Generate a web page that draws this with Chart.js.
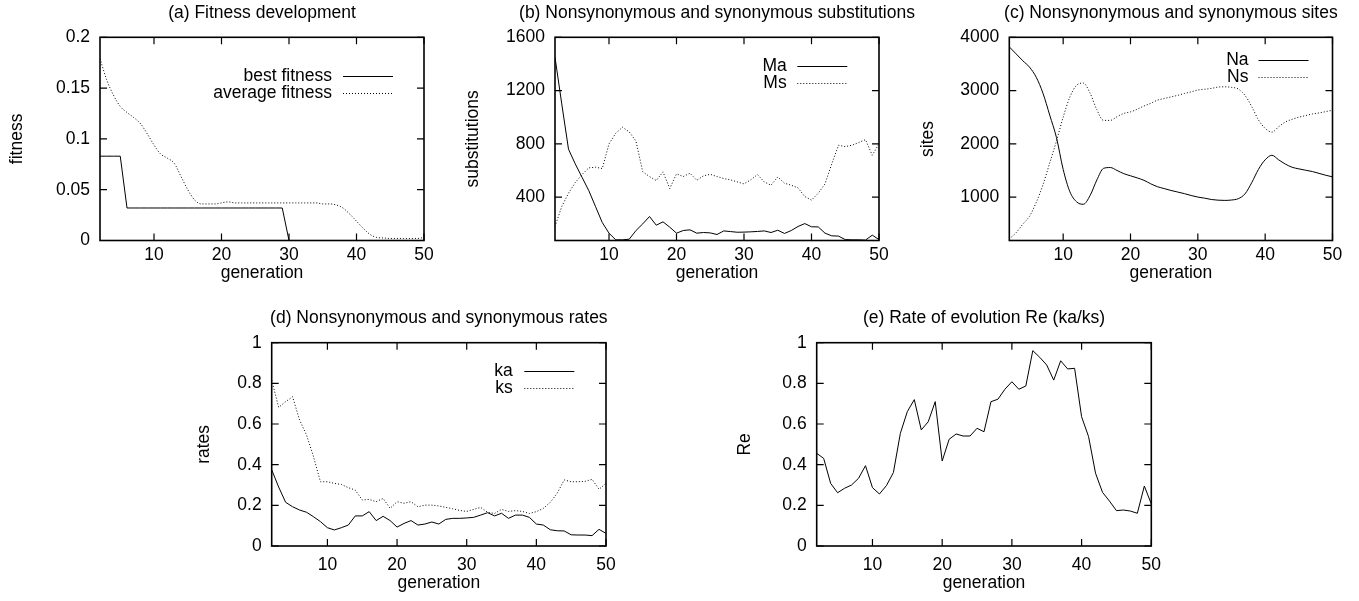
<!DOCTYPE html>
<html>
<head>
<meta charset="utf-8">
<title>Evolution runs</title>
<script src="https://cdn.jsdelivr.net/npm/chart.js@4.4.1/dist/chart.umd.min.js"></script>
<style>
  body { margin: 0; background: #fff; }
  #page { position: relative; width: 1359px; height: 601px; overflow: hidden; background: #fff; }
  #page canvas { position: absolute; }
</style>
</head>
<body>
<div id="page"></div>
<script>
// generations on the x axis
const generations = [2, 3, 4, 5, 6, 7, 8, 9, 10, 11, 12, 13, 14, 15, 16, 17, 18, 19, 20, 21,
  22, 23, 24, 25, 26, 27, 28, 29, 30, 31, 32, 33, 34, 35, 36, 37, 38, 39, 40, 41,
  42, 43, 44, 45, 46, 47, 48, 49, 50];
const generationTicks = [10, 20, 30, 40, 50];

// (a) fitness
const bestFitness = [0.083, 0.083, 0.083, 0.083, 0.032, 0.032, 0.032, 0.032, 0.032, 0.032,
  0.032, 0.032, 0.032, 0.032, 0.032, 0.032, 0.032, 0.032, 0.032, 0.032,
  0.032, 0.032, 0.032, 0.032, 0.032, 0.032, 0.032, 0.032, 0, 0,
  0, 0, 0, 0, 0, 0, 0, 0, 0, 0,
  0, 0, 0, 0, 0, 0, 0, 0, 0];
const averageFitness = [0.179, 0.158, 0.143, 0.132, 0.126, 0.121, 0.115, 0.105, 0.094, 0.085,
  0.081, 0.076, 0.063, 0.050, 0.040, 0.036, 0.036, 0.036, 0.037, 0.038,
  0.037, 0.037, 0.037, 0.037, 0.037, 0.037, 0.037, 0.037, 0.037, 0.037,
  0.037, 0.037, 0.037, 0.036, 0.036, 0.035, 0.032, 0.026, 0.019, 0.012,
  0.006, 0.003, 0.0025, 0.002, 0.002, 0.002, 0.002, 0.002, 0.003];
const fitnessTicks = [0, 0.05, 0.1, 0.15, 0.2];

// (b) substitutions
const Ma = [1450, 1100, 760, 650, 550, 450, 330, 210, 130, 80,
  80, 85, 150, 200, 255, 190, 215, 175, 130, 150,
  155, 130, 135, 132, 120, 147, 142, 137, 138, 140,
  143, 147, 135, 152, 128, 150, 180, 202, 178, 177,
  130, 110, 108, 82, 80, 80, 78, 115, 82];
const Ms = [180, 330, 430, 510, 570, 620, 625, 615, 800, 880,
  925, 890, 820, 590, 555, 525, 590, 465, 575, 555,
  580, 527, 560, 572, 555, 540, 530, 515, 500, 530,
  570, 515, 490, 552, 505, 490, 470, 405, 378, 430,
  500, 650, 790, 780, 790, 810, 832, 715, 800];
const substitutionTicks = [400, 800, 1200, 1600];

// (c) sites
const Na = [3820, 3690, 3560, 3440, 3250, 2950, 2540, 2120, 1520, 1100,
  910, 865, 1030, 1320, 1540, 1555, 1500, 1440, 1400, 1360,
  1315, 1250, 1195, 1160, 1125, 1095, 1065, 1030, 1000, 980,
  955, 942, 938, 945, 970, 1060, 1270, 1520, 1700, 1785,
  1700, 1620, 1560, 1530, 1505, 1480, 1445, 1410, 1380];
const Ns = [215, 330, 490, 640, 900, 1230, 1640, 2050, 2500, 2880,
  3100, 3140, 2950, 2640, 2440, 2440, 2510, 2570, 2600, 2650,
  2710, 2760, 2820, 2850, 2880, 2910, 2945, 2975, 3010, 3025,
  3040, 3065, 3070, 3060, 3030, 2910, 2700, 2450, 2290, 2220,
  2320, 2410, 2460, 2500, 2530, 2560, 2580, 2605, 2630];
const siteTicks = [1000, 2000, 3000, 4000];

// (d) rates
const ka = [0.375, 0.29, 0.215, 0.193, 0.177, 0.166, 0.144, 0.12, 0.09, 0.079,
  0.09, 0.103, 0.148, 0.148, 0.169, 0.125, 0.146, 0.125, 0.093, 0.111,
  0.125, 0.103, 0.108, 0.118, 0.108, 0.131, 0.136, 0.136, 0.138, 0.141,
  0.152, 0.164, 0.148, 0.161, 0.136, 0.152, 0.152, 0.141, 0.108, 0.103,
  0.08, 0.075, 0.074, 0.055, 0.054, 0.054, 0.051, 0.082, 0.062];
const ks = [0.816, 0.682, 0.71, 0.734, 0.62, 0.546, 0.44, 0.316, 0.316, 0.308,
  0.303, 0.287, 0.275, 0.226, 0.229, 0.218, 0.234, 0.185, 0.218, 0.21,
  0.218, 0.193, 0.201, 0.201, 0.197, 0.19, 0.183, 0.175, 0.17, 0.18,
  0.19, 0.166, 0.16, 0.18, 0.17, 0.174, 0.17, 0.16, 0.169, 0.185,
  0.215, 0.26, 0.325, 0.316, 0.316, 0.318, 0.328, 0.279, 0.308];

// (e) Re = ka/ks
const Re = [0.456, 0.431, 0.308, 0.262, 0.284, 0.3, 0.333, 0.395, 0.287, 0.256,
  0.297, 0.361, 0.554, 0.661, 0.72, 0.571, 0.611, 0.71, 0.418, 0.525,
  0.551, 0.541, 0.541, 0.579, 0.562, 0.71, 0.722, 0.771, 0.808, 0.771,
  0.787, 0.961, 0.928, 0.89, 0.816, 0.911, 0.871, 0.874, 0.636, 0.538,
  0.358, 0.264, 0.221, 0.174, 0.177, 0.172, 0.161, 0.295, 0.207];
const rateTicks = [0, 0.2, 0.4, 0.6, 0.8, 1];

const FONT = { family: "'Liberation Sans', Arial, Helvetica, sans-serif", size: 17.5, lineHeight: 1.2 };
const DOTTED = [1, 2];

function points(ys) {
  return generations.map((g, i) => ({ x: g, y: ys[i] }));
}

// gnuplot look: title over the box, box border, inward ticks on all sides, key inside the box
const gnuplotFrame = {
  id: 'gnuplotFrame',
  afterDatasetsDraw(chart, args, opts) {
    const { ctx, chartArea: a, scales } = chart;
    const t = 7;
    ctx.save();
    ctx.strokeStyle = '#000';
    ctx.lineWidth = 1.2;
    ctx.beginPath();
    scales.x.ticks.forEach(tk => {
      const px = scales.x.getPixelForValue(tk.value);
      ctx.moveTo(px, a.bottom); ctx.lineTo(px, a.bottom - t);
      ctx.moveTo(px, a.top); ctx.lineTo(px, a.top + t);
    });
    scales.y.ticks.forEach(tk => {
      const py = scales.y.getPixelForValue(tk.value);
      ctx.moveTo(a.left, py); ctx.lineTo(a.left + t, py);
      ctx.moveTo(a.right, py); ctx.lineTo(a.right - t, py);
    });
    ctx.stroke();
    ctx.lineWidth = 1.6;
    ctx.strokeRect(a.left, a.top, a.right - a.left, a.bottom - a.top);

    ctx.font = FONT.size + 'px ' + FONT.family;
    ctx.fillStyle = '#000';
    ctx.textBaseline = 'middle';
    ctx.textAlign = 'center';
    ctx.fillText(opts.title, (a.left + a.right) / 2, opts.titleY);

    if (opts.key) {
      const k = opts.key;
      ctx.textAlign = 'right';
      chart.data.datasets.forEach((ds, i) => {
        const y = a.top + k.firstRow + i * k.rowGap;
        ctx.fillText(ds.label, a.right - k.textRight, y);
        ctx.beginPath();
        ctx.lineWidth = 1;
        ctx.setLineDash(ds.borderDash || []);
        ctx.moveTo(a.right - k.sampleFrom, Math.round(y) + 0.5);
        ctx.lineTo(a.right - k.sampleTo, Math.round(y) + 0.5);
        ctx.stroke();
        ctx.setLineDash([]);
      });
    }
    ctx.restore();
  }
};

function makePanel(p) {
  const canvas = document.createElement('canvas');
  canvas.width = p.box[2];
  canvas.height = p.box[3];
  canvas.style.left = p.box[0] + 'px';
  canvas.style.top = p.box[1] + 'px';
  document.getElementById('page').appendChild(canvas);

  const [cx, cy, cw, ch] = p.box;
  const [l, t, r, b] = p.area;
  const yWidth = l - cx;
  const xHeight = cy + ch - b;
  const half = FONT.size * FONT.lineHeight / 2;

  return new Chart(canvas, {
    type: 'line',
    data: {
      datasets: p.series.map(s => ({
        label: s.label,
        data: points(s.values),
        borderColor: '#000',
        borderWidth: 1,
        borderDash: s.dotted ? DOTTED : [],
        pointRadius: 0,
        fill: false,
        tension: 0,
        cubicInterpolationMode: s.smooth ? 'monotone' : 'default'
      }))
    },
    options: {
      responsive: false,
      animation: false,
      events: [],
      layout: { padding: { left: 0, top: t - cy, right: cx + cw - r, bottom: 0 } },
      plugins: {
        legend: { display: false },
        tooltip: { enabled: false },
        title: { display: false },
        gnuplotFrame: { key: p.key, title: p.title, titleY: p.titleY - cy }
      },
      scales: {
        x: {
          type: 'linear',
          min: 2,
          max: 50,
          afterBuildTicks: s => { s.ticks = generationTicks.map(v => ({ value: v })); },
          afterFit: s => { s.height = xHeight; },
          grid: { display: false, drawTicks: false },
          border: { display: false },
          ticks: { color: '#000', font: FONT, padding: p.xTickY - b - half, maxRotation: 0, autoSkip: false,
                   callback: v => String(v) },
          title: { display: true, text: 'generation', color: '#000', font: FONT,
                   padding: { top: 0, bottom: cy + ch - p.xTitleY - half } }
        },
        y: {
          type: 'linear',
          min: p.yMin,
          max: p.yMax,
          afterBuildTicks: s => { s.ticks = p.yTicks.map(v => ({ value: v })); },
          afterFit: s => { s.width = yWidth; },
          grid: { display: false, drawTicks: false },
          border: { display: false },
          ticks: { color: '#000', font: FONT, padding: 10, autoSkip: false,
                   callback: v => String(v) },
          title: { display: true, text: p.yTitle, color: '#000', font: FONT,
                   padding: { top: p.yTitleX - cx - half, bottom: 0 } }
        }
      }
    },
    plugins: [gnuplotFrame]
  });
}

makePanel({
  box: [0, 0, 450, 300], area: [100, 37.3, 424, 240.5],
  title: '(a) Fitness development', titleY: 13.3,
  yTitle: 'fitness', yTitleX: 17.3, yMin: 0, yMax: 0.2, yTicks: fitnessTicks,
  xTickY: 255, xTitleY: 273,
  key: { textRight: 92, sampleFrom: 81, sampleTo: 31, firstRow: 38.7, rowGap: 17.3 },
  series: [
    { label: 'best fitness', values: bestFitness },
    { label: 'average fitness', values: averageFitness, dotted: true, smooth: true }
  ]
});

makePanel({
  box: [450, 0, 475, 300], area: [555, 37.3, 879, 240.5],
  title: '(b) Nonsynonymous and synonymous substitutions', titleY: 13.3,
  yTitle: 'substitutions', yTitleX: 473.3, yMin: 75, yMax: 1600, yTicks: substitutionTicks,
  xTickY: 255, xTitleY: 273,
  key: { textRight: 92.3, sampleFrom: 81.7, sampleTo: 31.7, firstRow: 28.7, rowGap: 16.8 },
  series: [
    { label: 'Ma', values: Ma },
    { label: 'Ms', values: Ms, dotted: true }
  ]
});

makePanel({
  box: [905, 0, 454, 300], area: [1009.3, 37.3, 1332.5, 240.5],
  title: '(c) Nonsynonymous and synonymous sites', titleY: 13.3,
  yTitle: 'sites', yTitleX: 928.3, yMin: 185, yMax: 4000, yTicks: siteTicks,
  xTickY: 255, xTitleY: 273,
  key: { textRight: 84, sampleFrom: 74, sampleTo: 24, firstRow: 22.7, rowGap: 17.3 },
  series: [
    { label: 'Na', values: Na, smooth: true },
    { label: 'Ns', values: Ns, dotted: true, smooth: true }
  ]
});

makePanel({
  box: [180, 300, 500, 301], area: [271.7, 342.7, 606, 546],
  title: '(d) Nonsynonymous and synonymous rates', titleY: 318.3,
  yTitle: 'rates', yTitleX: 204, yMin: 0, yMax: 1, yTicks: rateTicks,
  xTickY: 565, xTitleY: 583,
  key: { textRight: 93.3, sampleFrom: 81.7, sampleTo: 31.7, firstRow: 28.3, rowGap: 17.4 },
  series: [
    { label: 'ka', values: ka },
    { label: 'ks', values: ks, dotted: true }
  ]
});

makePanel({
  box: [700, 300, 480, 301], area: [816.7, 342.7, 1151.3, 546],
  title: '(e) Rate of evolution Re (ka/ks)', titleY: 318.3,
  yTitle: 'Re', yTitleX: 745, yMin: 0, yMax: 1, yTicks: rateTicks,
  xTickY: 565, xTitleY: 583,
  key: null,
  series: [
    { label: 'Re', values: Re }
  ]
});
</script>
</body>
</html>
